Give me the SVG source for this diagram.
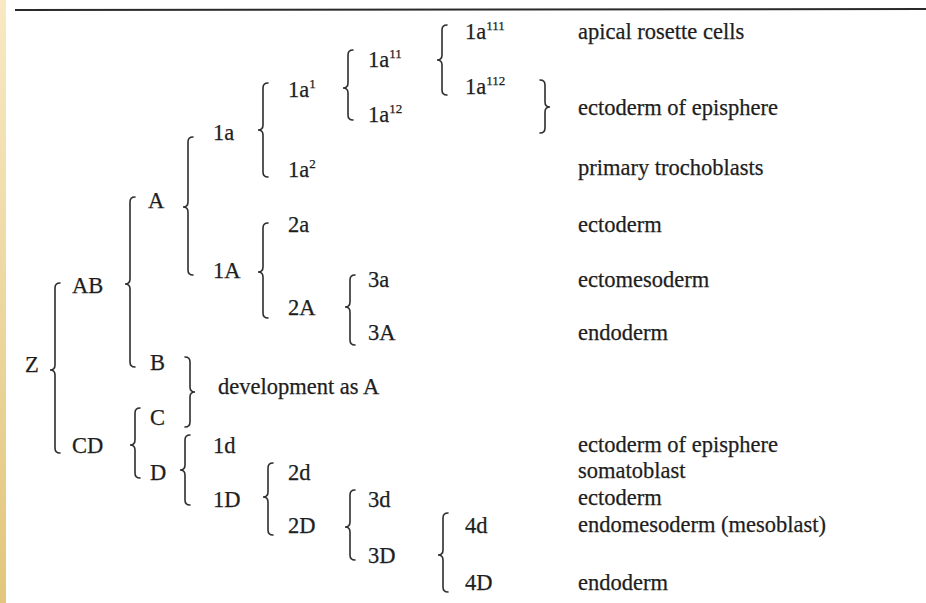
<svg xmlns="http://www.w3.org/2000/svg" width="926" height="603" viewBox="0 0 926 603">
<defs>
<linearGradient id="strip" x1="0" y1="0" x2="0" y2="1">
<stop offset="0" stop-color="#f8e9c4"/>
<stop offset="1" stop-color="#e2c67c"/>
</linearGradient>
</defs>
<style>
text{font-family:"Liberation Serif","Times New Roman",serif;font-size:22.5px;fill:#1e1e1e;stroke:#1e1e1e;stroke-width:0.25}
.sup{font-size:13px}
.br{fill:none;stroke:#2e2e2e;stroke-width:1.6;stroke-linecap:round}
</style>
<rect x="0" y="0" width="926" height="603" fill="#ffffff"/>
<rect x="0" y="0" width="6" height="603" fill="url(#strip)"/>
<line x1="15" y1="10" x2="926" y2="9" stroke="#2a2a2a" stroke-width="2"/>
<g id="connectors">
<path class="br" d="M60,283 Q55,283 55,288 L55,365 Q55,370 50,370 Q55,370 55,375 L55,448 Q55,453 60,453"/>
<path class="br" d="M135,197 Q130,197 130,202 L130,279 Q130,284 125,284 Q130,284 130,289 L130,362 Q130,367 135,367"/>
<path class="br" d="M193,137 Q188,137 188,142 L188,202 Q188,207 183,207 Q188,207 188,212 L188,270 Q188,275 193,275"/>
<path class="br" d="M268,83 Q263,83 263,88 L263,125 Q263,130 258,130 Q263,130 263,135 L263,172 Q263,177 268,177"/>
<path class="br" d="M353,50 Q348,50 348,55 L348,83 Q348,88 343,88 Q348,88 348,93 L348,115 Q348,120 353,120"/>
<path class="br" d="M447,25 Q442,25 442,30 L442,55 Q442,60 437,60 Q442,60 442,65 L442,90 Q442,95 447,95"/>
<path class="br" d="M540,80 Q545,80 545,85 L545,102 Q545,107 550,107 Q545,107 545,112 L545,128 Q545,133 540,133"/>
<path class="br" d="M268,223 Q263,223 263,228 L263,267 Q263,272 258,272 Q263,272 263,277 L263,313 Q263,318 268,318"/>
<path class="br" d="M355,275 Q350,275 350,280 L350,302 Q350,307 345,307 Q350,307 350,312 L350,340 Q350,345 355,345"/>
<path class="br" d="M185,357 Q190,357 190,362 L190,387 Q190,392 195,392 Q190,392 190,397 L190,422 Q190,427 185,427"/>
<path class="br" d="M140,408 Q135,408 135,413 L135,440 Q135,445 130,445 Q135,445 135,450 L135,473 Q135,478 140,478"/>
<path class="br" d="M190,435 Q185,435 185,440 L185,465 Q185,470 180,470 Q185,470 185,475 L185,500 Q185,505 190,505"/>
<path class="br" d="M273,463 Q268,463 268,468 L268,492 Q268,497 263,497 Q268,497 268,502 L268,530 Q268,535 273,535"/>
<path class="br" d="M355,490 Q350,490 350,495 L350,522 Q350,527 345,527 Q350,527 350,532 L350,555 Q350,560 355,560"/>
<path class="br" d="M448,513 Q443,513 443,518 L443,550 Q443,555 438,555 Q443,555 443,560 L443,587 Q443,592 448,592"/>
</g>
<g id="n-Z"><text x="25" y="372">Z</text></g>
<g id="n-AB"><text x="72" y="293">AB</text></g>
<g id="n-CD"><text x="72" y="453">CD</text></g>
<g id="n-A"><text x="148" y="208">A</text></g>
<g id="n-B"><text x="150" y="370">B</text></g>
<g id="n-C"><text x="150" y="425">C</text></g>
<g id="n-D"><text x="150" y="480">D</text></g>
<g id="n-1a"><text x="213" y="140">1a</text></g>
<g id="n-1A"><text x="213" y="278">1A</text></g>
<g id="n-1a1"><text x="288" y="97">1a<tspan class="sup" dy="-9">1</tspan></text></g>
<g id="n-1a2"><text x="288" y="177">1a<tspan class="sup" dy="-9">2</tspan></text></g>
<g id="n-1a11"><text x="368" y="67">1a<tspan class="sup" dy="-9">11</tspan></text></g>
<g id="n-1a12"><text x="368" y="122">1a<tspan class="sup" dy="-9">12</tspan></text></g>
<g id="n-1a111"><text x="465" y="39">1a<tspan class="sup" dy="-9">111</tspan></text></g>
<g id="n-1a112"><text x="465" y="94">1a<tspan class="sup" dy="-9">112</tspan></text></g>
<g id="n-2a"><text x="288" y="232">2a</text></g>
<g id="n-2A"><text x="288" y="315">2A</text></g>
<g id="n-3a"><text x="368" y="287">3a</text></g>
<g id="n-3A"><text x="368" y="340">3A</text></g>
<g id="n-dev"><text x="218" y="394">development as A</text></g>
<g id="n-1d"><text x="213" y="453">1d</text></g>
<g id="n-1D"><text x="213" y="507">1D</text></g>
<g id="n-2d"><text x="288" y="480">2d</text></g>
<g id="n-2D"><text x="288" y="533">2D</text></g>
<g id="n-3d"><text x="368" y="507">3d</text></g>
<g id="n-3D"><text x="368" y="563">3D</text></g>
<g id="n-4d"><text x="465" y="533">4d</text></g>
<g id="n-4D"><text x="465" y="590">4D</text></g>
<g id="labels">
<text x="578" y="39">apical rosette cells</text>
<text x="578" y="115">ectoderm of episphere</text>
<text x="578" y="175">primary trochoblasts</text>
<text x="578" y="232">ectoderm</text>
<text x="578" y="287">ectomesoderm</text>
<text x="578" y="340">endoderm</text>
<text x="578" y="452">ectoderm of episphere</text>
<text x="578" y="478">somatoblast</text>
<text x="578" y="505">ectoderm</text>
<text x="578" y="532">endomesoderm (mesoblast)</text>
<text x="578" y="590">endoderm</text>
</g>
</svg>
